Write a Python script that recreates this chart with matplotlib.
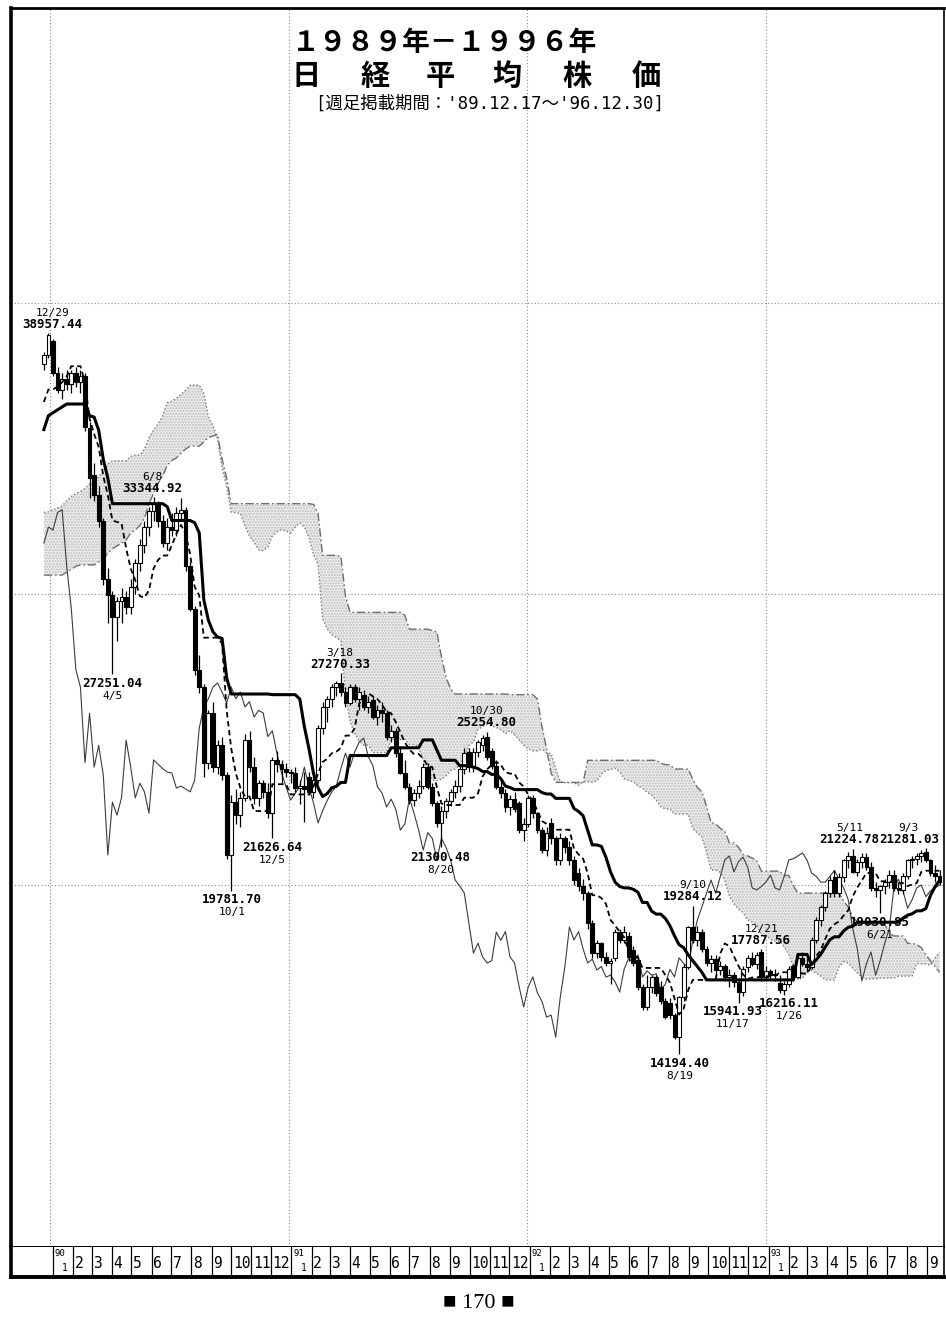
import datetime as dt
import numpy as np
import matplotlib
matplotlib.use("Agg")
import matplotlib.pyplot as plt
from matplotlib import font_manager

# ---------------------------------------------------------------------------
# Weekly Nikkei 225 candles. Week index 0 = week starting Monday 1990-01-01.
# The first candle is the week of 1989-12-18 (index -2).
# ---------------------------------------------------------------------------
FIRST_WEEK = -2

opens = [
    37900, 38200, 38700, 37600, 37000, 37400, 37200, 37600, 37300, 37500,   # -2
    35700, 34100, 33400, 32500, 30500, 29950, 29200, 29750, 29900, 29550,   # 8
    30250, 31050, 31700, 32300, 32850, 33100, 32500, 31750, 32300, 32200,   # 18
    32800, 32900, 30950, 29500, 27400, 26800, 24200, 25900, 24050, 24800,   # 28
    23780, 21030, 22850, 22400, 23000, 24980, 24050, 22990, 23500, 23200,   # 38
    22470, 24300, 24150, 24000, 23880, 23850, 23330, 23400, 23700, 23200,   # 48
    23600, 25400, 26100, 26400, 26800, 26940, 26630, 26250, 26800, 26400,   # 58
    26530, 26120, 26360, 25770, 26000, 25910, 25100, 25300, 24530, 23850,   # 68
    23370, 22920, 23150, 23400, 24050, 23370, 22820, 22130, 22550, 22900,   # 78
    23200, 23400, 24000, 24570, 24050, 24570, 24800, 25090, 24600, 24100,   # 88
    23370, 23160, 22680, 22950, 22820, 21890, 22100, 22980, 22470, 21890,   # 98
    21200, 22130, 21600, 20860, 21600, 21300, 20860, 20400, 19970, 19720,   # 108
    18690, 17660, 18000, 17530, 17320, 17500, 18380, 18100, 18250, 17770,   # 118
    17420, 16500, 15810, 16500, 16840, 16500, 16000, 15950, 15530, 14770,   # 128
    16150, 17180, 18560, 18110, 18400, 17800, 17320, 17450, 17080, 17200,   # 138
    16840, 16900, 16670, 16320, 17180, 17490, 17300, 17700, 16840, 17050,   # 148
    16900, 16630, 16390, 16600, 17200, 16840, 17500, 17300, 17180, 18110,   # 158
    18800, 19250, 19720, 20280, 19720, 20280, 20860, 21000, 20450, 20800,   # 168
    20960, 20620, 19900, 19830, 19950, 20100, 20340, 19900, 19830, 20300,   # 178
    20860, 20900, 21000, 21130, 20860, 20410, 20300,                        # 188
]
highs = [
    38300, 38957.44, 38750, 37800, 37600, 37700, 37700, 37800, 37700, 37600,
    35900, 34500, 33700, 32600, 30900, 30100, 29900, 30200, 30100, 30500,
    31200, 31900, 32500, 33000, 33344.92, 33200, 32700, 32600, 32800, 33000,
    33300, 33000, 31100, 29600, 27900, 26900, 26000, 26300, 25000, 25100,
    23900, 23100, 23300, 23200, 25200, 25300, 24400, 23600, 23600, 23500,
    24400, 24600, 24300, 24200, 24000, 24050, 23600, 23900, 23900, 23800,
    25500, 26300, 26500, 26900, 27000, 27270.33, 26800, 26900, 26900, 26800,
    26700, 26500, 26500, 26200, 26300, 26000, 25500, 25400, 24700, 24300,
    23500, 23300, 23600, 24200, 24200, 23500, 22900, 22700, 23000, 23300,
    23600, 24100, 24700, 24700, 24700, 25000, 25150, 25254.80, 24700, 24300,
    23600, 23300, 23100, 23200, 22900, 22300, 23100, 23100, 22500, 22000,
    22000, 22300, 21700, 21800, 21700, 21500, 21000, 20600, 20200, 19800,
    18800, 18100, 18050, 17700, 17500, 18500, 18500, 18600, 18400, 17900,
    17500, 16600, 16900, 16900, 16900, 16700, 16100, 16100, 15600, 16200,
    17300, 18600, 19284.12, 18600, 18500, 17900, 17600, 17600, 17400, 17300,
    17100, 17000, 16800, 17200, 17600, 17700, 17700, 17787.56, 17200, 17100,
    17100, 16900, 16700, 17200, 17300, 17600, 17700, 17500, 18200, 18900,
    19300, 19800, 20300, 20500, 20400, 20900, 21150, 21224.78, 20900, 21100,
    21100, 20800, 20100, 20000, 20200, 20500, 20500, 20100, 20400, 20900,
    21000, 21100, 21200, 21281.03, 20900, 20700, 20500,
]
lows = [
    37700, 38100, 37500, 36900, 36700, 37000, 36900, 37100, 36900, 35600,
    33300, 33200, 32300, 30300, 29000, 27251.04, 28400, 29000, 29300, 29300,
    30000, 30800, 31400, 32000, 32500, 32300, 31600, 31500, 32000, 32000,
    32500, 30800, 29400, 27200, 26600, 23700, 24000, 23900, 23800, 23600,
    20900, 19781.70, 22100, 22000, 22900, 23900, 22800, 22700, 23000, 22300,
    21626.64, 23900, 23500, 23700, 23500, 23200, 22800, 22160, 23100, 23000,
    23500, 25200, 25600, 26100, 26500, 26500, 26100, 26200, 26300, 26000,
    26000, 25900, 25700, 25500, 25600, 25000, 24900, 24400, 23800, 23300,
    22800, 22700, 23000, 23300, 23300, 22700, 22000, 21300.48, 22300, 22700,
    23000, 23200, 23800, 23900, 23900, 24400, 24600, 24300, 24000, 23300,
    23000, 22500, 22400, 22500, 21800, 21500, 22000, 22300, 21800, 21100,
    21000, 21400, 20700, 20700, 21100, 20700, 20000, 19800, 19500, 18500,
    17500, 17500, 17400, 17200, 16600, 17400, 18000, 18000, 17400, 17200,
    16400, 15700, 15700, 16300, 16200, 15900, 15400, 15400, 14700, 14194.40,
    16000, 17100, 18000, 17900, 17700, 17200, 17000, 16900, 16900, 16700,
    16500, 16500, 15941.93, 16200, 17000, 17200, 17100, 16700, 16700, 16800,
    16700, 16300, 16216.11, 16500, 16700, 16800, 17200, 17000, 17100, 18000,
    18600, 19100, 19600, 19600, 19600, 20100, 20600, 20400, 20300, 20600,
    20500, 19800, 19600, 19030.85, 19700, 19900, 19800, 19700, 19700, 20200,
    20600, 20700, 20800, 20800, 20300, 20100, 20000,
]
closes = [
    38200, 38916, 37600, 37000, 37400, 37200, 37600, 37300, 37500, 35750,
    34000, 33400, 32500, 30500, 29980, 29200, 29750, 29900, 29550, 30250,
    31050, 31700, 32300, 32850, 33100, 32500, 31750, 32300, 32200, 32800,
    32900, 30950, 29500, 27400, 26800, 24200, 25900, 24050, 24800, 23780,
    21030, 22850, 22400, 23000, 24980, 24050, 22990, 23500, 23200, 22470,
    24300, 24150, 24000, 23880, 23850, 23330, 23400, 23300, 23200, 23600,
    25400, 26100, 26400, 26800, 26940, 26630, 26250, 26800, 26400, 26630,
    26120, 26300, 25770, 26000, 25910, 25100, 25300, 24530, 23850, 23370,
    22920, 23150, 23400, 24050, 23370, 22820, 22130, 22550, 22900, 23200,
    23400, 24000, 24530, 24050, 24570, 24910, 25050, 24400, 24100, 23370,
    23160, 22680, 22950, 22600, 21890, 22100, 22980, 22470, 21890, 21200,
    21800, 21600, 20860, 21600, 21300, 20860, 20170, 19970, 19720, 18690,
    17660, 18000, 17530, 17320, 17400, 18380, 18100, 18400, 17530, 17320,
    16500, 15810, 16500, 16840, 16290, 16000, 15460, 15530, 14770, 16150,
    17180, 18560, 18110, 18400, 17800, 17320, 17450, 17080, 17200, 16840,
    16900, 16670, 16320, 17120, 17490, 17300, 17600, 16840, 17050, 16900,
    16950, 16390, 16600, 17100, 16840, 17500, 17300, 17180, 18110, 18800,
    19250, 19720, 20170, 19720, 20280, 20860, 21000, 20450, 20800, 20960,
    20620, 19900, 19830, 19950, 20100, 20340, 19900, 19830, 20300, 20860,
    20900, 21000, 21100, 20860, 20410, 20300, 20100,
]
# closes of the following weeks (Sep 1993 - Mar 1994), used by the lagging span
later_closes = [
    20100, 20300, 20500, 20200, 19900, 19500, 18500, 17800, 16700, 17300,
    17700, 16900, 17400, 18000, 18500, 19900, 20200, 19800, 19200, 19500,
    19900, 20000, 19600, 19800, 19900, 20000,
]
# weekly highs / lows from mid-1988 to the chart start (cloud & baselines only)
pre_highs = [
    28100, 28000, 28200, 28400, 28300, 28100, 28000, 28200, 28300, 28100,
    27900, 27800, 27900, 27700, 27600, 27800, 27900, 28100, 28300, 28500,
    28800, 29000, 29300, 29400, 29700, 29900, 30100, 30200, 30500, 30800,
    31000, 31300, 31600, 31900, 32000, 31900, 32200, 32400, 32500, 32600,
    32900, 33300, 33600, 33800, 33700, 34000, 34200, 34300, 34200, 34000,
    33800, 33600, 33500, 33700, 33900, 34100, 34300, 34500, 34700, 34900,
    35000, 34800, 34700, 34900, 35200, 35400, 35600, 35700, 35600, 35300,
    35600, 35900, 35800, 35900, 36300, 37100, 37600, 38000,
]
pre_lows = [
    27600, 27500, 27700, 27900, 27800, 27600, 27400, 27700, 27800, 27500,
    27300, 27300, 27400, 27100, 27000, 27200, 27400, 27600, 27800, 28000,
    28300, 28500, 28800, 28900, 29100, 29300, 29600, 29800, 29900, 30200,
    30400, 30700, 31000, 31300, 31400, 31200, 31500, 31800, 31900, 32000,
    32200, 32600, 33000, 33200, 33100, 33400, 33600, 33700, 33500, 33300,
    33000, 32800, 32900, 33000, 33300, 33500, 33700, 33900, 34100, 34300,
    34400, 34200, 34100, 34300, 34500, 34700, 34900, 35000, 34900, 34500,
    34900, 35200, 35100, 35300, 35600, 36000, 36800, 37200,
]

# labelled turning points: (week index, 'high'/'low', date text, dx px, gap px)
turning_points = [
    (-1, "high", "12/29", 4, 2),
    (13, "low", "4/5", 0, 3),
    (22, "high", "6/8", -1, 2),
    (39, "low", "10/1", 1, 2),
    (48, "low", "12/5", 0, 3),
    (63, "high", "3/18", -1, 2),
    (85, "low", "8/20", -1, 4),
    (95, "high", "10/30", -1, 3),
    (137, "low", "8/19", 1, 3),
    (140, "high", "9/10", 0, 3),
    (150, "low", "11/17", -6, 2),
    (155, "high", "12/21", 0, 2),
    (160, "low", "1/26", 5, 2),
    (175, "high", "5/11", -3, 3),
    (181, "low", "6/21", 0, 3),
    (191, "high", "9/3", -17, 2),
]

title_years = "１９８９年－１９９６年"
title_name = ["日", "経", "平", "均", "株", "価"]
subtitle = "[週足掲載期間：'89.12.17～'96.12.30]"
page_label = "■ 170 ■"

# ---------------------------------------------------------------------------
W, H = 946, 1327
DPI = 100
BASE = dt.date(1990, 1, 1)


def week_of(d):
    return (d - BASE).days / 7.0


def midpoint(hi, lo, n):
    out = np.full(len(hi), np.nan)
    for i in range(n - 1, len(hi)):
        out[i] = (hi[i - n + 1:i + 1].max() + lo[i - n + 1:i + 1].min()) / 2.0
    return out


o = np.array(opens, float)
h = np.array(highs, float)
l = np.array(lows, float)
c = np.array(closes, float)
n = len(c)
assert len(o) == len(h) == len(l) == n
assert len(pre_highs) == len(pre_lows)
wk = np.arange(FIRST_WEEK, FIRST_WEEK + n)

n_pre = len(pre_highs)
hist_h = np.concatenate([pre_highs, h])
hist_l = np.concatenate([pre_lows, l])
tenkan_all = midpoint(hist_h, hist_l, 9)
kijun_all = midpoint(hist_h, hist_l, 26)
span_a_all = (tenkan_all + kijun_all) / 2.0
span_b_all = midpoint(hist_h, hist_l, 52)

tenkan = tenkan_all[n_pre:]
kijun = kijun_all[n_pre:]
span_a = span_a_all[n_pre - 26:n_pre - 26 + n]
span_b = span_b_all[n_pre - 26:n_pre - 26 + n]
all_closes = np.array(closes + later_closes, float)
chikou = all_closes[26:26 + n]

# fonts
available = {f.name for f in font_manager.fontManager.ttflist}
if "Liberation Sans Narrow" in available:
    NUM_FAMILY = ["Liberation Sans Narrow", "DejaVu Sans"]
    NUM_SIZE, DATE_SIZE, AX_SIZE = 11.0, 9.5, 12.5
else:
    NUM_FAMILY = ["DejaVu Sans Mono"]
    NUM_SIZE, DATE_SIZE, AX_SIZE = 9.0, 8.0, 10.5
CJK = ["Noto Sans CJK JP", "DejaVu Sans"]

fig = plt.figure(figsize=(W / DPI, H / DPI), dpi=DPI)
fig.patch.set_facecolor("white")


def fx(px):
    return px / W


def fy(py):
    return 1 - py / H


# plot frame geometry (pixels)
LEFT, RIGHT, TOP, MID, BOTTOM = 11, 944, 8, 1247, 1277
ax = fig.add_axes([fx(LEFT), fy(MID), fx(RIGHT) - fx(LEFT), fy(TOP) - fy(MID)])
axs = fig.add_axes([fx(LEFT), fy(BOTTOM), fx(RIGHT) - fx(LEFT), fy(MID) - fy(BOTTOM)])

PX_W = 4.57          # pixels per week
PX_Y = 0.0291        # pixels per yen
X0 = 53              # pixel of week 0
Y20K = 885           # pixel of 20000 yen
xlim = ((LEFT - X0) / PX_W, (RIGHT - X0) / PX_W)
ylim = (20000 - (MID - Y20K) / PX_Y, 20000 + (Y20K - TOP) / PX_Y)
ax.set_xlim(*xlim)
ax.set_ylim(*ylim)
axs.set_xlim(*xlim)
axs.set_ylim(0, 1)

# grid
for lvl in (20000, 30000, 40000):
    ax.axhline(lvl, color="#8a8a8a", lw=0.8, ls=(0, (1, 2)), zorder=0.5)
for yr in (1990, 1991, 1992, 1993):
    ax.axvline(week_of(dt.date(yr, 1, 1)) - 0.6, color="#8a8a8a", lw=0.8,
               ls=(0, (1, 2)), zorder=0.5)

# cloud
ax.fill_between(wk, span_a, span_b, facecolor="#eeeeee", edgecolor="#bcbcbc",
                hatch="......", linewidth=0, zorder=1)
ax.plot(wk, span_a, color="#7a7a7a", lw=1.0, ls=(0, (1, 1.6)), zorder=1.5)
ax.plot(wk, span_b, color="#6e6e6e", lw=1.0, ls=(0, (6, 2, 1.2, 2)), zorder=1.5)

# lagging span
ax.plot(wk, chikou, color="#3c3c3c", lw=0.8, zorder=2)

# candles
up = c >= o
body_lo = np.minimum(o, c)
body_h = np.maximum(np.abs(c - o), 40)
ax.vlines(wk, l, h, color="black", lw=0.9, zorder=3)
ax.bar(wk[up], body_h[up], bottom=body_lo[up], width=0.84, facecolor="white",
       edgecolor="black", linewidth=0.8, zorder=4)
ax.bar(wk[~up], body_h[~up], bottom=body_lo[~up], width=0.84, facecolor="black",
       edgecolor="black", linewidth=0.8, zorder=4)

# conversion & base lines
ax.plot(wk, tenkan, color="black", lw=1.3, ls=(0, (3, 2)), zorder=5)
ax.plot(wk, kijun, color="black", lw=2.2, zorder=6)

# turning point labels
for week, kind, date_txt, dx, gap in turning_points:
    i = week - FIRST_WEEK
    if kind == "high":
        val = h[i]
        ax.annotate(f"{val:.2f}", (week, val), xytext=(dx, gap),
                    textcoords="offset pixels", ha="center", va="bottom",
                    fontsize=NUM_SIZE, family=NUM_FAMILY, weight="bold", zorder=8)
        ax.annotate(date_txt, (week, val), xytext=(dx, gap + 13),
                    textcoords="offset pixels", ha="center", va="bottom",
                    fontsize=DATE_SIZE, family=NUM_FAMILY, zorder=8)
    else:
        val = l[i]
        ax.annotate(f"{val:.2f}", (week, val), xytext=(dx, -gap),
                    textcoords="offset pixels", ha="center", va="top",
                    fontsize=NUM_SIZE, family=NUM_FAMILY, weight="bold", zorder=8)
        ax.annotate(date_txt, (week, val), xytext=(dx, -gap - 14),
                    textcoords="offset pixels", ha="center", va="top",
                    fontsize=DATE_SIZE, family=NUM_FAMILY, zorder=8)

for a in (ax, axs):
    a.set_xticks([])
    a.set_yticks([])
ax.spines["left"].set_linewidth(2.6)
ax.spines["top"].set_linewidth(2.0)
ax.spines["right"].set_linewidth(1.2)
ax.spines["bottom"].set_linewidth(1.4)
axs.spines["left"].set_linewidth(2.6)
axs.spines["bottom"].set_linewidth(2.8)
axs.spines["right"].set_linewidth(1.2)
axs.spines["top"].set_visible(False)

# month strip
d = dt.date(1990, 1, 1)
while week_of(d) < xlim[1]:
    x = week_of(d)
    axs.axvline(x, color="black", lw=0.9)
    if d.month == 1:
        axs.text(x + 0.4, 0.78, f"{d.year % 100:02d}", fontsize=6.5,
                 family=NUM_FAMILY, ha="left", va="center")
        axs.text(x + 2.0, 0.30, "1", fontsize=7, family=NUM_FAMILY,
                 ha="left", va="center")
    else:
        axs.text(x + 0.35, 0.44, str(d.month), fontsize=AX_SIZE,
                 family=NUM_FAMILY, ha="left", va="center")
    d = dt.date(d.year + (d.month == 12), d.month % 12 + 1, 1)

# titles
fig.text(fx(444), fy(43), title_years, fontsize=20, family=CJK, weight="bold",
         ha="center", va="center")
for ch, xc in zip(title_name, (306, 375, 440, 507, 577, 646)):
    fig.text(fx(xc), fy(76), ch, fontsize=21, family=CJK, weight="bold",
             ha="center", va="center")
fig.text(fx(490), fy(104), subtitle, fontsize=12.5,
         family=["DejaVu Sans Mono", "Noto Sans CJK JP"], ha="center", va="center")

fig.text(fx(479), fy(1304), page_label, fontsize=16,
         family=["Liberation Serif", "DejaVu Serif"], ha="center", va="center")

fig.savefig("out.png", dpi=DPI, facecolor="white")
